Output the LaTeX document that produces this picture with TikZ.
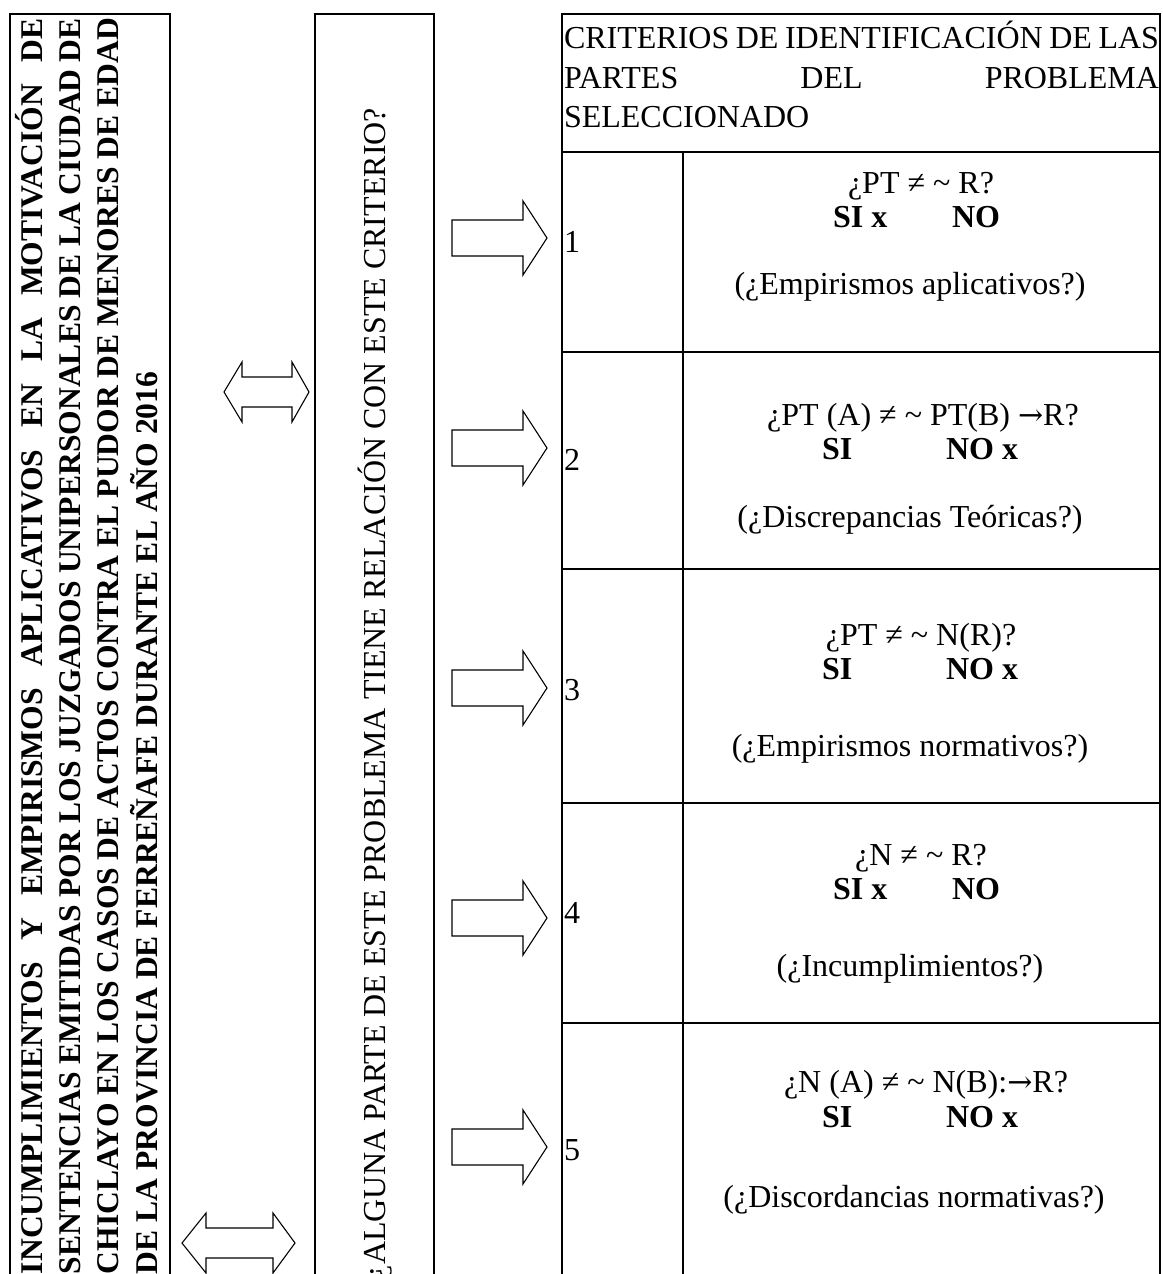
\documentclass[tikz,border=0pt]{standalone}
\usepackage{fontspec}
\setmainfont{Liberation Serif}
\newfontfamily\arrowfont{DejaVu Serif}
\newcommand{\rarr}{{\arrowfont\fontsize{30}{32}\selectfont →}}
\begin{document}
\begin{tikzpicture}[x=1pt,y=-1pt,
  frame/.style={draw, line width=2pt, rectangle, inner sep=0pt, outer sep=0pt},
  rule/.style={line width=2pt},
  blockarrow/.style={draw, line width=1.1pt, line join=miter, fill=white},
  txt/.style={inner sep=0pt, outer sep=0pt, font=\fontsize{32}{38}\selectfont},
  btxt/.style={txt, font=\fontsize{32}{38}\selectfont\bfseries},
  ltxt/.style={inner sep=0pt, outer sep=0pt, font=\fontsize{31.6}{38}\selectfont\bfseries},
  mtxt/.style={inner sep=0pt, outer sep=0pt, font=\fontsize{32}{38}\selectfont}]
\clip (0,0) rectangle (1162,1274);
\fill[white] (0,0) rectangle (1162,1274);

% boxes
\node[frame, anchor=north west, minimum width=160pt, minimum height=1400pt] (titlebox) at (10,14) {};
\node[frame, anchor=north west, minimum width=119pt, minimum height=1400pt] (qbox) at (315,14) {};
\node[frame, anchor=north west, minimum width=598pt, minimum height=1400pt] (table) at (562,14) {};

% table rules
\coordinate (h0l) at (562,152); \coordinate (h0r) at (1160,152);
\coordinate (h1l) at (562,352); \coordinate (h1r) at (1160,352);
\coordinate (h2l) at (562,569); \coordinate (h2r) at (1160,569);
\coordinate (h3l) at (562,803); \coordinate (h3r) at (1160,803);
\coordinate (h4l) at (562,1023); \coordinate (h4r) at (1160,1023);
\coordinate (vt) at (683,152); \coordinate (vb) at (683,1300);
\draw[rule] (h0l) -- (h0r);
\draw[rule] (h1l) -- (h1r);
\draw[rule] (h2l) -- (h2r);
\draw[rule] (h3l) -- (h3r);
\draw[rule] (h4l) -- (h4r);
\draw[rule] (vt) -- (vb);

% title text (rotated, bold, justified)
\node[ltxt, anchor=base west, rotate=90] (t1) at (42,1274)
  {\makebox[1256pt][s]{INCUMPLIMIENTOS Y EMPIRISMOS APLICATIVOS EN LA MOTIVACIÓN DE}};
\node[ltxt, anchor=base west, rotate=90] (t2) at (80,1274)
  {\makebox[1256pt][s]{SENTENCIAS EMITIDAS POR LOS JUZGADOS UNIPERSONALES DE LA CIUDAD DE}};
\node[ltxt, anchor=base west, rotate=90] (t3) at (118,1274)
  {\makebox[1256pt][s]{CHICLAYO EN LOS CASOS DE ACTOS CONTRA EL PUDOR DE MENORES DE EDAD}};
\node[ltxt, anchor=base west, rotate=90] (t4) at (157,1274)
  {DE LA PROVINCIA DE FERREÑAFE DURANTE EL AÑO 2016};

% question text
\node[mtxt, anchor=base east, rotate=90] (q) at (385,108)
  {¿ALGUNA PARTE DE ESTE PROBLEMA TIENE RELACIÓN CON ESTE CRITERIO?};

% header
\node[txt, anchor=base west] (hd1) at (564,48) {\makebox[595pt][s]{CRITERIOS DE IDENTIFICACIÓN DE LAS}};
\node[txt, anchor=base west] (hd2) at (564,88) {\makebox[595pt][s]{PARTES DEL PROBLEMA}};
\node[txt, anchor=base west] (hd3) at (564,127) {SELECCIONADO};

% double arrows
\draw[blockarrow] (224,392) -- (242,362) -- (242,377) -- (292,377) -- (292,362) -- (309,392)
  -- (292,422) -- (292,407) -- (242,407) -- (242,422) -- cycle;
\draw[blockarrow] (182,1243) -- (206,1213) -- (206,1228) -- (273,1228) -- (273,1213) -- (295,1243)
  -- (273,1273) -- (273,1258) -- (206,1258) -- (206,1273) -- cycle;

% single arrows
\foreach \c/\n in {238/a1,448/a2,688/a3,918/a4,1147/a5}{
  \draw[blockarrow] (452,\c-18) -- (523,\c-18) -- (523,\c-37) -- (547,\c) -- (523,\c+37)
    -- (523,\c+18) -- (452,\c+18) -- cycle;
}

% row numbers
\node[txt, anchor=base west] (n1) at (564,252) {1};
\node[txt, anchor=base west] (n2) at (564,470) {2};
\node[txt, anchor=base west] (n3) at (564,700) {3};
\node[txt, anchor=base west] (n4) at (564,923) {4};
\node[txt, anchor=base west] (n5) at (564,1160) {5};

% row 1
\node[txt, anchor=base] (r1a) at (921,193) {¿PT ≠ \textasciitilde{} R?};
\node[btxt, anchor=base west] (r1si) at (833,227) {SI x};
\node[btxt, anchor=base west] (r1no) at (952,227) {NO};
\node[txt, anchor=base] (r1c) at (910,294) {(¿Empirismos aplicativos?)};
% row 2
\node[txt, anchor=base] (r2a) at (923,425) {¿PT (A) ≠ \textasciitilde{} PT(B) \rarr R?};
\node[btxt, anchor=base west] (r2si) at (822,459) {SI};
\node[btxt, anchor=base west] (r2no) at (946,459) {NO x};
\node[txt, anchor=base] (r2c) at (910,527) {(¿Discrepancias Teóricas?)};
% row 3
\node[txt, anchor=base] (r3a) at (921,645) {¿PT ≠ \textasciitilde{} N(R)?};
\node[btxt, anchor=base west] (r3si) at (822,679) {SI};
\node[btxt, anchor=base west] (r3no) at (946,679) {NO x};
\node[txt, anchor=base] (r3c) at (910,756) {(¿Empirismos normativos?)};
% row 4
\node[txt, anchor=base] (r4a) at (921,865) {¿N ≠ \textasciitilde{} R?};
\node[btxt, anchor=base west] (r4si) at (833,899) {SI x};
\node[btxt, anchor=base west] (r4no) at (952,899) {NO};
\node[txt, anchor=base] (r4c) at (910,976) {(¿Incumplimientos?)};
% row 5
\node[txt, anchor=base] (r5a) at (926,1092) {¿N (A) ≠ \textasciitilde{} N(B):\rarr R?};
\node[btxt, anchor=base west] (r5si) at (822,1127) {SI};
\node[btxt, anchor=base west] (r5no) at (946,1127) {NO x};
\node[txt, anchor=base] (r5c) at (914,1207) {(¿Discordancias normativas?)};
\end{tikzpicture}
\end{document}
